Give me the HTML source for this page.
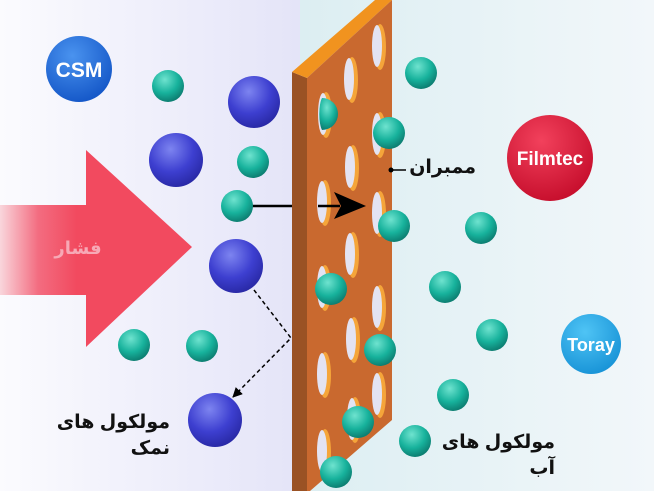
<!DOCTYPE html><html><head><meta charset="utf-8"><style>body{margin:0}svg{display:block}</style></head><body>
<svg width="654" height="491" viewBox="0 0 654 491" xmlns="http://www.w3.org/2000/svg" font-family="Liberation Sans, Noto Sans CJK SC, sans-serif">
<defs>
<linearGradient id="bgl" x1="0" x2="1"><stop offset="0" stop-color="#fbfbfe"/><stop offset="1" stop-color="#e4e4f8"/></linearGradient>
<linearGradient id="bgr" x1="0" x2="1"><stop offset="0" stop-color="#dceef2"/><stop offset="1" stop-color="#f2f7fa"/></linearGradient>
<linearGradient id="arr" x1="0" x2="1"><stop offset="0" stop-color="#f9d6dc"/><stop offset="0.2" stop-color="#f36c80"/><stop offset="0.4" stop-color="#f24a5f"/></linearGradient>
<radialGradient id="b" cx="0.4" cy="0.3" r="0.7"><stop offset="0" stop-color="#7d84f0"/><stop offset="0.6" stop-color="#3d3fd0"/><stop offset="1" stop-color="#2a2aa8"/></radialGradient>
<radialGradient id="t" cx="0.4" cy="0.3" r="0.7"><stop offset="0" stop-color="#6fe3cf"/><stop offset="0.6" stop-color="#17b29c"/><stop offset="1" stop-color="#0d7f72"/></radialGradient>
<radialGradient id="csm" cx="0.4" cy="0.3" r="0.7"><stop offset="0" stop-color="#4a93ef"/><stop offset="1" stop-color="#1659c9"/></radialGradient>
<radialGradient id="fil" cx="0.4" cy="0.3" r="0.7"><stop offset="0" stop-color="#f2415c"/><stop offset="1" stop-color="#c8102e"/></radialGradient>
<radialGradient id="tor" cx="0.4" cy="0.3" r="0.7"><stop offset="0" stop-color="#4fc4f5"/><stop offset="1" stop-color="#1a95d8"/></radialGradient>
<marker id="ah" markerWidth="10" markerHeight="10" refX="9" refY="5" orient="auto" markerUnits="userSpaceOnUse"><path d="M0,0 L10,5 L0,10 Z" fill="#000"/></marker>
</defs>
<rect width="654" height="491" fill="url(#bgl)"/>
<rect x="300" width="354" height="491" fill="url(#bgr)"/>
<rect x="0" y="0" width="300" height="491" fill="url(#bgl)"/>
<path d="M0,205 H86 V150 L192,247 L86,347 V295 H0 Z" fill="url(#arr)"/>
<text x="78" y="254" font-size="18" font-weight="bold" fill="#f7a9b6" text-anchor="middle" font-family="Liberation Sans, DejaVu Sans, sans-serif">فشار</text>
<polygon points="292,72 307,78 307,491 292,491" fill="#9a5224"/>
<polygon points="292,72 375,0 392,0 307,78" fill="#f1931f"/>
<polygon points="307,78 392,0 392,420 310,491 307,491" fill="#c9692f"/>
<g fill="#f5a53a">
<ellipse cx="380" cy="47" rx="6" ry="23"/><ellipse cx="352" cy="80" rx="6" ry="23"/>
<ellipse cx="326" cy="115" rx="6" ry="23"/><ellipse cx="380" cy="135" rx="6" ry="23"/>
<ellipse cx="353" cy="168" rx="6" ry="23"/><ellipse cx="325" cy="203" rx="6" ry="23"/>
<ellipse cx="380" cy="214" rx="6" ry="23"/><ellipse cx="353" cy="255" rx="6" ry="23"/>
<ellipse cx="325" cy="288" rx="6" ry="23"/><ellipse cx="380" cy="308" rx="6" ry="23"/>
<ellipse cx="354" cy="340" rx="6" ry="23"/><ellipse cx="325" cy="375" rx="6" ry="23"/>
<ellipse cx="380" cy="395" rx="6" ry="23"/><ellipse cx="355" cy="420" rx="6" ry="23"/>
<ellipse cx="325" cy="452" rx="6" ry="23"/>
</g>
<g fill="#e3e3f2">
<ellipse cx="377" cy="46" rx="5" ry="21"/><ellipse cx="349" cy="79" rx="5" ry="21"/>
<ellipse cx="323" cy="114" rx="5" ry="21"/><ellipse cx="377" cy="134" rx="5" ry="21"/>
<ellipse cx="350" cy="167" rx="5" ry="21"/><ellipse cx="322" cy="202" rx="5" ry="21"/>
<ellipse cx="377" cy="213" rx="5" ry="21"/><ellipse cx="350" cy="254" rx="5" ry="21"/>
<ellipse cx="322" cy="287" rx="5" ry="21"/><ellipse cx="377" cy="307" rx="5" ry="21"/>
<ellipse cx="351" cy="339" rx="5" ry="21"/><ellipse cx="322" cy="374" rx="5" ry="21"/>
<ellipse cx="377" cy="394" rx="5" ry="21"/><ellipse cx="352" cy="419" rx="5" ry="21"/>
<ellipse cx="322" cy="451" rx="5" ry="21"/>
</g>
<line x1="252" y1="206" x2="292" y2="206" stroke="#000" stroke-width="2.5"/>
<line x1="318" y1="206" x2="340" y2="206" stroke="#000" stroke-width="2.5"/>
<path d="M334,192 L366,206 L334,219 L341,206 Z" fill="#000"/>
<polyline points="254,290 291,338 233,397" fill="none" stroke="#000" stroke-width="1.5" stroke-dasharray="4,3" marker-end="url(#ah)"/>
<g fill="url(#b)">
<circle cx="254" cy="102" r="26"/><circle cx="176" cy="160" r="27"/><circle cx="236" cy="266" r="27"/><circle cx="215" cy="420" r="27"/>
</g>
<g fill="url(#t)">
<circle cx="168" cy="86" r="16"/><circle cx="253" cy="162" r="16"/><circle cx="237" cy="206" r="16"/>
<circle cx="134" cy="345" r="16"/><circle cx="202" cy="346" r="16"/>
<circle cx="421" cy="73" r="16"/><circle cx="389" cy="133" r="16"/><circle cx="394" cy="226" r="16"/>
<circle cx="481" cy="228" r="16"/><circle cx="445" cy="287" r="16"/><circle cx="492" cy="335" r="16"/>
<circle cx="380" cy="350" r="16"/><circle cx="453" cy="395" r="16"/><circle cx="415" cy="441" r="16"/>
<circle cx="336" cy="472" r="16"/><circle cx="331" cy="289" r="16"/><circle cx="358" cy="422" r="16"/>
<path d="M322,98 A16,16 0 0 1 322,130 A5,18 0 0 1 322,98 Z"/>
</g>
<circle cx="79" cy="69" r="33" fill="url(#csm)"/>
<text x="79" y="77" font-size="21" font-weight="bold" fill="#fff" text-anchor="middle">CSM</text>
<circle cx="550" cy="158" r="43" fill="url(#fil)"/>
<text x="550" y="165" font-size="19" font-weight="bold" fill="#fff" text-anchor="middle">Filmtec</text>
<circle cx="591" cy="344" r="30" fill="url(#tor)"/>
<text x="591" y="351" font-size="18" font-weight="bold" fill="#fff" text-anchor="middle">Toray</text>
<circle cx="391" cy="170" r="2.5" fill="#000"/><line x1="391" y1="170" x2="406" y2="170" stroke="#000" stroke-width="1.5"/>
<g font-family="Liberation Sans, DejaVu Sans, sans-serif" font-size="19" font-weight="bold" fill="#111" text-anchor="end">
<text x="476" y="173">ممبران</text>
<text x="170" y="428">مولکول های</text>
<text x="170" y="454">نمک</text>
<text x="555" y="448">مولکول های</text>
<text x="555" y="474">آب</text>
</g>
</svg>
</body></html>
